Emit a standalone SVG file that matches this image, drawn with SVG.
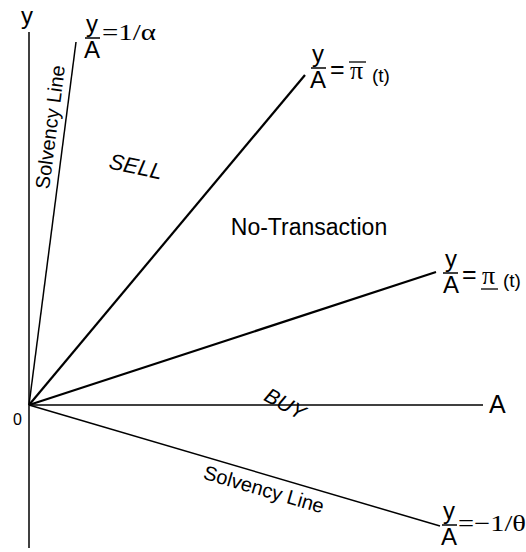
<svg xmlns="http://www.w3.org/2000/svg" width="526" height="552" viewBox="0 0 526 552">
<style>
.s{font-family:"Liberation Sans",Arial,sans-serif;fill:#000}
.m{font-family:"Liberation Serif","Times New Roman",serif;fill:#000}
.ln{stroke:#000;fill:none}
</style>
<rect width="526" height="552" fill="#fff"/>
<g id="connectors">
<line class="ln" x1="29" y1="32" x2="29" y2="548" stroke-width="1.5"/>
<line class="ln" x1="29" y1="405" x2="483" y2="405" stroke-width="1.5"/>
<line class="ln" x1="29" y1="405" x2="76" y2="42" stroke-width="1.5"/>
<line class="ln" x1="29" y1="405" x2="305" y2="75" stroke-width="2.2"/>
<line class="ln" x1="29" y1="405" x2="436" y2="272" stroke-width="2.2"/>
<line class="ln" x1="29" y1="405" x2="440" y2="526" stroke-width="1.5"/>
</g>
<g id="axis-y"><text class="s" x="27" y="24" font-size="24" text-anchor="middle">y</text></g>
<g id="axis-a"><text class="s" x="489" y="413" font-size="25">A</text></g>
<g id="origin"><text class="s" x="17.5" y="425" font-size="16" text-anchor="middle">0</text></g>
<g id="label-top">
<text class="s" x="92" y="32" font-size="24" text-anchor="middle">y</text>
<line class="ln" x1="85" y1="38" x2="100" y2="38" stroke-width="1.5"/>
<text class="s" x="92" y="58" font-size="24" text-anchor="middle">A</text>
<text class="m" x="102" y="40" font-size="23" textLength="54" lengthAdjust="spacingAndGlyphs">=1/α</text>
</g>
<g id="label-pi-upper">
<text class="s" x="318" y="62" font-size="24" text-anchor="middle">y</text>
<line class="ln" x1="311" y1="68" x2="326" y2="68" stroke-width="1.5"/>
<text class="s" x="318" y="88" font-size="24" text-anchor="middle">A</text>
<text class="s" x="330" y="78" font-size="25">=</text>
<text class="m" x="350" y="79" font-size="26">π</text>
<line class="ln" x1="349" y1="62" x2="366" y2="62" stroke-width="1.3"/>
<text class="s" x="372" y="82" font-size="19">(t)</text>
</g>
<g id="label-pi-lower">
<text class="s" x="451" y="267" font-size="24" text-anchor="middle">y</text>
<line class="ln" x1="443" y1="273" x2="458" y2="273" stroke-width="1.5"/>
<text class="s" x="451" y="293" font-size="24" text-anchor="middle">A</text>
<text class="s" x="462" y="283" font-size="25">=</text>
<text class="m" x="482" y="284" font-size="26">π</text>
<line class="ln" x1="481" y1="289" x2="498" y2="289" stroke-width="1.3"/>
<text class="s" x="503" y="287" font-size="19">(t)</text>
</g>
<g id="label-bottom">
<text class="s" x="449" y="519" font-size="24" text-anchor="middle">y</text>
<line class="ln" x1="442" y1="525" x2="457" y2="525" stroke-width="1.5"/>
<text class="s" x="449" y="545" font-size="24" text-anchor="middle">A</text>
<text class="m" x="458" y="531" font-size="23" textLength="68" lengthAdjust="spacingAndGlyphs">=−1/θ</text>
</g>
<g id="region-sell"><text class="s" font-size="22" font-style="italic" text-anchor="middle" transform="translate(136,166) rotate(12)" y="8">SELL</text></g>
<g id="region-notrans"><text class="s" x="309" y="235" font-size="23" text-anchor="middle">No-Transaction</text></g>
<g id="region-buy"><text class="s" font-size="21" font-style="italic" text-anchor="middle" transform="translate(285,404) rotate(29)" y="7">BUY</text></g>
<g id="solvency-upper"><text class="s" font-size="20" text-anchor="middle" transform="translate(57,128) rotate(-82.6)">Solvency Line</text></g>
<g id="solvency-lower"><text class="s" font-size="20" text-anchor="middle" transform="translate(262,496) rotate(16.3)">Solvency Line</text></g>
</svg>
